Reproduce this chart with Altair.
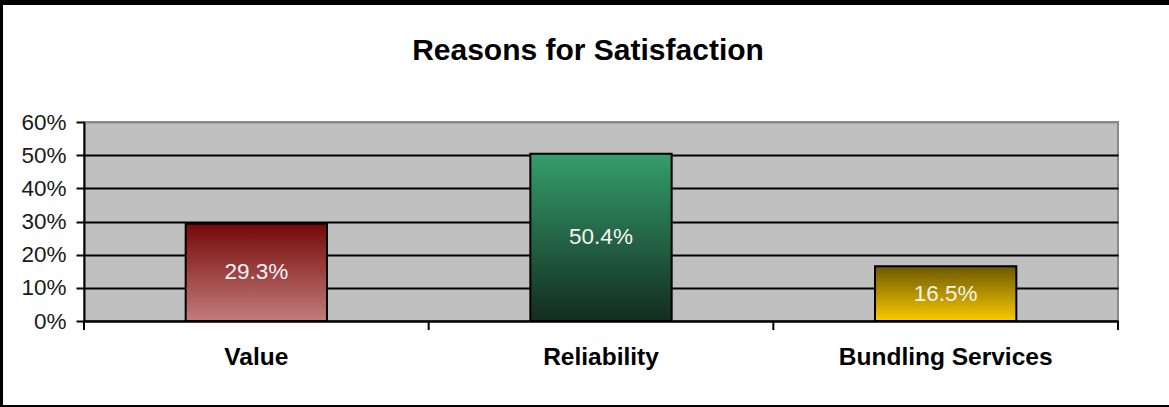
import altair as alt
import pandas as pd

categories = ["Value", "Reliability", "Bundling Services"]
values = [0.293, 0.504, 0.165]
y_ticks = [0, 0.1, 0.2, 0.3, 0.4, 0.5, 0.6]
title_text = "Reasons for Satisfaction"

gradients = {
    "Value": ["#760808", "#c27c7c"],
    "Reliability": ["#349e6b", "#132c1f"],
    "Bundling Services": ["#6c5800", "#fbca00"],
}

df = pd.DataFrame({"category": categories, "value": values})

W, H = 1034, 199
PAD = {"left": 84, "top": 122, "right": 1169 - 84 - W, "bottom": 407 - 122 - H}
FONT = "Liberation Sans"

x_scale = alt.Scale(domain=categories, paddingInner=0, paddingOuter=0)
x_axis = alt.Axis(title=None, ticks=False, domain=True, domainColor="black",
                  domainWidth=2, labelFont=FONT, labelFontSize=24.5,
                  labelFontWeight="bold", labelColor="black", labelPadding=24,
                  labelAngle=0, grid=False, labelLimit=0, labelOverlap=False)
y_axis = alt.Axis(values=y_ticks, format=".0%", title=None, domain=True,
                  domainColor="black", domainWidth=2, ticks=True, tickSize=8,
                  tickColor="black", tickWidth=2, labelFont=FONT,
                  labelFontSize=22.5, labelColor="#1a1a1a", labelPadding=10,
                  labelOverlap=False, labelLimit=0,
                  grid=True, gridWidth=2,
                  gridColor={"condition": {"test": "datum.value >= 0.6", "value": "#8a8a8a"},
                             "value": "black"})
y_scale = alt.Scale(domain=[0, 0.6], nice=False)

def xenc(**kw):
    return alt.X("category:N", scale=x_scale, sort=categories, axis=x_axis, **kw)

def yenc(field):
    return alt.Y(field, scale=y_scale, axis=y_axis)

base = alt.Chart(df)

layers = []
for cat in categories:
    top, bottom = gradients[cat]
    grad = alt.Gradient(gradient="linear", x1=0, x2=0, y1=0, y2=1,
                        stops=[alt.GradientStop(color=top, offset=0),
                               alt.GradientStop(color=bottom, offset=1)])
    layers.append(
        base.transform_filter(alt.FieldEqualPredicate(field="category", equal=cat))
        .mark_bar(fill=grad, stroke="black", strokeWidth=2,
                  width=alt.RelativeBandSize(0.41))
        .encode(x=xenc(), y=yenc("value:Q"))
    )

labels = base.transform_calculate(half="datum.value / 2").mark_text(
    color="#f4f4f4", fontSize=22.5, font=FONT, baseline="middle"
).encode(x=xenc(), y=yenc("half:Q"), text=alt.Text("value:Q", format=".1%"))

xticks = base.mark_rule(color="black", strokeWidth=2).encode(
    x=xenc(bandPosition=0), y=alt.value(H), y2=alt.value(H + 9))
xtick_end = base.transform_filter(
    alt.FieldEqualPredicate(field="category", equal=categories[-1])
).mark_rule(color="black", strokeWidth=2).encode(
    x=xenc(bandPosition=1), y=alt.value(H), y2=alt.value(H + 9))

title = alt.Chart(pd.DataFrame({"t": [title_text]})).mark_text(
    fontSize=30, fontWeight="bold", font=FONT, baseline="alphabetic",
    align="center", color="black"
).encode(text="t:N", x=alt.value(504), y=alt.value(-62))

frame_top = base.mark_rule(color="black", strokeWidth=5).encode(
    x=alt.value(-84), x2=alt.value(1169 - 84), y=alt.value(-119.5))
frame_left = base.mark_rule(color="black", strokeWidth=3).encode(
    x=alt.value(-82.5), y=alt.value(-122), y2=alt.value(407 - 122))
frame_bottom = base.mark_rule(color="black", strokeWidth=2).encode(
    x=alt.value(-84), x2=alt.value(1169 - 84), y=alt.value(406 - 122))

chart = alt.layer(*layers, labels, xticks, xtick_end, title,
                  frame_top, frame_left, frame_bottom).properties(
    width=W, height=H, padding=PAD, autosize="none", background="white"
).configure_view(fill="#c0c0c0", stroke="#8a8a8a", strokeWidth=2)

chart.save("out.html", embed_options={"renderer": "svg", "actions": False})
